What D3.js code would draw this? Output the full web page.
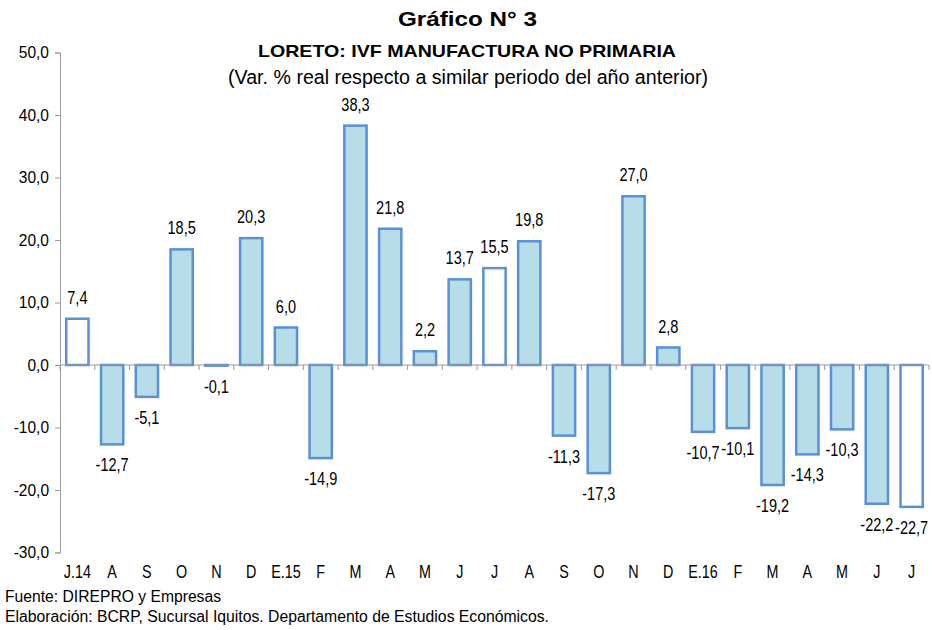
<!DOCTYPE html>
<html>
<head>
<meta charset="utf-8">
<script src="https://cdn.jsdelivr.net/npm/d3@7"></script>
<style>
  body { margin: 0; background: #fff; }
  text { font-family: "Liberation Sans", Arial, sans-serif; fill: #000; }
  .axis path, .axis line { stroke: #999; }
</style>
</head>
<body>
<div id="chart"></div>
<script>
// Loreto: IVF manufactura no primaria, var. % real
var months = ["J.14","A","S","O","N","D","E.15","F","M","A","M","J","J","A","S","O","N","D","E.16","F","M","A","M","J","J"];
var values = [7.4, -12.7, -5.1, 18.5, -0.1, 20.3, 6.0, -14.9, 38.3, 21.8, 2.2, 13.7, 15.5, 19.8, -11.3, -17.3, 27.0, 2.8, -10.7, -10.1, -19.2, -14.3, -10.3, -22.2, -22.7];
// bars drawn white (hollow) in the original
var hollow = [0, 12, 24];
var yTicks = [-30, -20, -10, 0, 10, 20, 30, 40, 50];

var W = 932, H = 630;
var margin = {left: 60, right: 3, top: 52.5, bottom: 77.5};
var innerW = W - margin.left - margin.right;
var innerH = H - margin.top - margin.bottom;

var svg = d3.select("#chart").append("svg")
    .attr("width", W).attr("height", H);

// comma decimals, plain hyphen for minus
var fmt = function (v) { return v.toFixed(1).replace(".", ","); };

// condensed look of the original (narrow Arial)
function squeeze(sel, k) {
  sel.each(function () {
    var w = this.getComputedTextLength();
    d3.select(this).attr("textLength", w * k).attr("lengthAdjust", "spacingAndGlyphs");
  });
}
function fitTo(sel, len) {
  sel.attr("textLength", len).attr("lengthAdjust", "spacingAndGlyphs");
}

var x = d3.scaleBand()
    .domain(d3.range(months.length))
    .range([0, innerW])
    .paddingInner(0.36)
    .paddingOuter(0.18);

var y = d3.scaleLinear().domain([-30, 50]).range([innerH, 0]);

var g = svg.append("g")
    .attr("transform", "translate(" + margin.left + "," + margin.top + ")");

// y axis
var yAxis = d3.axisLeft(y).tickValues(yTicks).tickSize(5).tickPadding(6).tickFormat(fmt);
var ya = g.append("g").attr("class", "axis").call(yAxis);
ya.selectAll("text").style("font-size", "16px");
squeeze(ya.selectAll("text"), 0.97);

// bars
var step = x.step();
g.selectAll("rect.bar")
    .data(values)
    .enter().append("rect")
    .attr("class", "bar")
    .attr("x", function (d, i) { return x(i); })
    .attr("width", x.bandwidth())
    .attr("y", function (d) { return y(Math.max(0, d)); })
    .attr("height", function (d) { return Math.abs(y(d) - y(0)); })
    .attr("fill", function (d, i) { return hollow.indexOf(i) >= 0 ? "#ffffff" : "#b7dee8"; })
    .attr("stroke", "#5b8fd6")
    .attr("stroke-width", 2.5);

// zero line with category ticks
g.append("line")
    .attr("x1", 0).attr("x2", innerW)
    .attr("y1", y(0)).attr("y2", y(0))
    .attr("stroke", "#999");
g.selectAll("line.ctick")
    .data(d3.range(months.length + 1))
    .enter().append("line")
    .attr("class", "ctick")
    .attr("x1", function (i) { return i * step; })
    .attr("x2", function (i) { return i * step; })
    .attr("y1", y(0)).attr("y2", y(0) + 5)
    .attr("stroke", "#999");

// value labels
var vals = g.selectAll("text.val")
    .data(values)
    .enter().append("text")
    .attr("class", "val")
    .attr("text-anchor", "middle")
    .style("font-size", "17.5px")
    .attr("x", function (d, i) { return x(i) + x.bandwidth() / 2; })
    .attr("y", function (d) { return d >= 0 ? y(d) - 15 : y(d) + 27; })
    .text(function (d) { return fmt(d); });
squeeze(vals, 0.83);

// category labels
var cats = g.selectAll("text.cat")
    .data(months)
    .enter().append("text")
    .attr("class", "cat")
    .attr("text-anchor", "middle")
    .style("font-size", "17.5px")
    .attr("x", function (d, i) { return x(i) + x.bandwidth() / 2; })
    .attr("y", innerH + 25.5)
    .text(function (d) { return d; });
squeeze(cats, 0.82);

// titles
fitTo(svg.append("text").attr("x", 467.5).attr("y", 26).attr("text-anchor", "middle")
    .style("font-size", "20px").style("font-weight", "bold").text("Gráfico N° 3"), 139);
fitTo(svg.append("text").attr("x", 467).attr("y", 56.5).attr("text-anchor", "middle")
    .style("font-size", "17px").style("font-weight", "bold").text("LORETO: IVF MANUFACTURA NO PRIMARIA"), 418);
fitTo(svg.append("text").attr("x", 468).attr("y", 84).attr("text-anchor", "middle")
    .style("font-size", "19.5px").text("(Var. % real respecto a similar periodo del año anterior)"), 480);

// footer
fitTo(svg.append("text").attr("x", 5).attr("y", 602).style("font-size", "16px")
    .text("Fuente: DIREPRO y Empresas"), 216);
fitTo(svg.append("text").attr("x", 5).attr("y", 622).style("font-size", "16px")
    .text("Elaboración: BCRP, Sucursal Iquitos. Departamento de Estudios Económicos."), 544);
</script>
</body>
</html>
